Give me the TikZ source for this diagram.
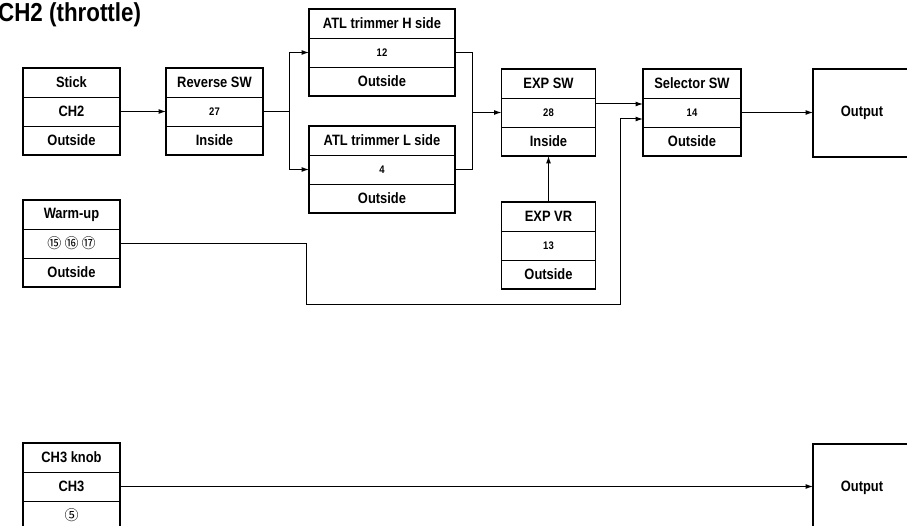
\documentclass[tikz,border=0pt]{standalone}
\usepackage{fontspec}
\setmainfont{Liberation Sans}[FakeStretch=0.86]
\newfontfamily\circfont{Noto Sans CJK JP}
\usetikzlibrary{arrows.meta,positioning}

\begin{document}
\begin{tikzpicture}[
  x=1pt, y=-1pt,
  node distance=0pt,
  row/.style={draw, line width=0.9pt, inner sep=0pt, outer sep=0pt, minimum width=97pt, minimum height=29pt, align=center},
  hd/.style={row, font=\bfseries\fontsize{15}{15}\selectfont},
  num/.style={row, font=\bfseries\fontsize{11}{11}\selectfont},
  circ/.style={row, font=\circfont\fontsize{14}{14}\selectfont},
  frame/.style={draw, line width=1.8pt},
  outbox/.style={draw, line width=1.6pt, outer sep=0pt, inner sep=0pt, minimum width=98pt, minimum height=88pt, font=\bfseries\fontsize{15}{15}\selectfont},
  arr/.style={-{Latex[length=7.5pt,width=5pt]}, line width=1pt},
  wire/.style={line width=1pt}
]
\useasboundingbox (0,0) rectangle (907,526);

\node[anchor=west, inner sep=0pt, font=\bfseries\fontsize{26}{26}\selectfont] (title) at (-2,15) {CH2 (throttle)};

% stick
\node[hd] (stick) at (71.5,82.5) {Stick};
\node[hd, below=of stick] (stick-m) {CH2};
\node[hd, below=of stick-m] (stick-b) {Outside};
\draw[frame] (stick.north west) rectangle (stick-b.south east);

% reverse switch
\node[hd] (rev) at (214.5,82.5) {Reverse SW};
\node[num, below=of rev] (rev-m) {27};
\node[hd, below=of rev-m] (rev-b) {Inside};
\draw[frame] (rev.north west) rectangle (rev-b.south east);

% ATL trimmers
\node[hd, minimum width=146pt] (atlh) at (382,23.5) {ATL trimmer H side};
\node[num, minimum width=146pt, below=of atlh] (atlh-m) {12};
\node[hd, minimum width=146pt, below=of atlh-m] (atlh-b) {Outside};
\draw[frame] (atlh.north west) rectangle (atlh-b.south east);

\node[hd, minimum width=146pt] (atll) at (382,140.5) {ATL trimmer L side};
\node[num, minimum width=146pt, below=of atll] (atll-m) {4};
\node[hd, minimum width=146pt, below=of atll-m] (atll-b) {Outside};
\draw[frame] (atll.north west) rectangle (atll-b.south east);

% exponential
\node[hd, minimum width=94pt] (expsw) at (548.5,83.5) {EXP SW};
\node[num, minimum width=94pt, below=of expsw] (expsw-m) {28};
\node[hd, minimum width=94pt, below=of expsw-m] (expsw-b) {Inside};
\draw[frame] (expsw.north west) rectangle (expsw-b.south east);

\node[hd, minimum width=94pt] (expvr) at (548.5,216.5) {EXP VR};
\node[num, minimum width=94pt, below=of expvr] (expvr-m) {13};
\node[hd, minimum width=94pt, below=of expvr-m] (expvr-b) {Outside};
\draw[frame] (expvr.north west) rectangle (expvr-b.south east);

% selector
\node[hd, minimum width=98pt] (sel) at (692,83.5) {Selector SW};
\node[num, minimum width=98pt, below=of sel] (sel-m) {14};
\node[hd, minimum width=98pt, below=of sel-m] (sel-b) {Outside};
\draw[frame] (sel.north west) rectangle (sel-b.south east);

\node[outbox] (out) at (862,113) {Output};

% warm-up
\node[hd] (warm) at (71.5,214.5) {Warm-up};
\node[circ, below=of warm] (warm-m) {⑮ ⑯ ⑰};
\node[hd, below=of warm-m] (warm-b) {Outside};
\draw[frame] (warm.north west) rectangle (warm-b.south east);

% CH3
\node[hd] (knob) at (71.5,457.5) {CH3 knob};
\node[hd, below=of knob] (knob-m) {CH3};
\node[circ, below=of knob-m] (knob-b) {⑤};
\draw[frame] (knob.north west) rectangle (knob-b.south east);

\node[outbox] (out3) at (862,488) {Output};

\coordinate (split) at (289,111.5);
\coordinate (join) at (472,112.5);
\coordinate (bend) at (306,305);
\coordinate (rise) at (620,305);

\draw[arr] (stick-m) -- (rev-m);
\draw[wire] (rev-m.east) -- (split);
\draw[arr] (split) |- (atlh-m.west);
\draw[arr] (split) |- (atll-m.west);
\draw[wire] (atlh-m.east) -| (join);
\draw[wire] (atll-m.east) -| (join);
\draw[arr] (join) -- (expsw-m.west);
\draw[arr] (expvr.north) -- (expsw-b.south);
\draw[arr] ([yshift=8.5pt]expsw-m.east) -- ([yshift=8.5pt]expsw-m.east -| sel-m.west);
\draw[arr] (warm-m.east) -| (bend) -- (rise) |- ([yshift=-6.5pt]sel-m.west);
\draw[arr] (sel-m.east) -- (sel-m.east -| out.west);
\draw[arr] (knob-m.east) -- (knob-m.east -| out3.west);
\end{tikzpicture}
\end{document}
